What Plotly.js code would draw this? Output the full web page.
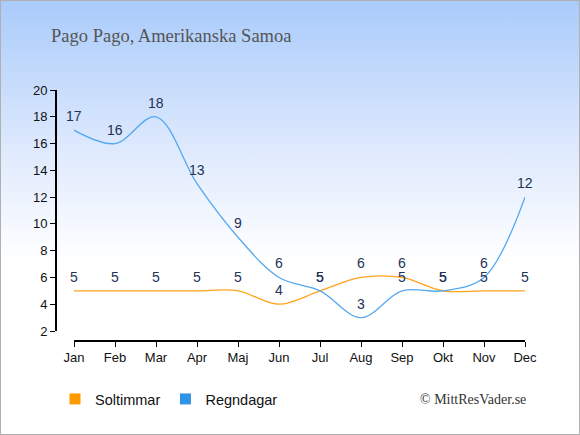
<!DOCTYPE html>
<html>
<head>
<meta charset="utf-8">
<script src="https://cdn.plot.ly/plotly-3.0.1.min.js"></script>
<style>
html,body{margin:0;padding:0;}
#wrap{position:relative;width:580px;height:435px;background:linear-gradient(to bottom,#a9cbfb 0%,#dfeafd 35%,#ffffff 60%,#ffffff 100%);}
#chart{position:absolute;left:0;top:0;width:580px;height:435px;}
#border{position:absolute;left:0;top:0;width:578px;height:433px;border:1px solid #b0b0b0;pointer-events:none;}
</style>
</head>
<body>
<div id="wrap"><div id="chart"></div><div id="border"></div></div>
<script>
const months = ["Jan","Feb","Mar","Apr","Maj","Jun","Jul","Aug","Sep","Okt","Nov","Dec"];
const sunHours = [5,5,5,5,5,4,5,6,6,5,5,5];
const rainDays = [17,16,18,13,9,6,5,3,5,5,6,12];
const yTicks = [2,4,6,8,10,12,14,16,18,20];
const seriesNames = ["Soltimmar","Regndagar"];

const sunColor = "#ffa31a", rainColor = "#55a8f0";
const sunLegend = "#ff9900", rainLegend = "#2f93e6";
const idx = months.map((m,i)=>i);

const traces = [
  {x: idx, y: sunHours, mode:"lines", line:{color:sunColor,width:1.3,shape:"spline",smoothing:1}, showlegend:false, hoverinfo:"skip"},
  {x: idx, y: rainDays, mode:"lines", line:{color:rainColor,width:1.3,shape:"spline",smoothing:1}, showlegend:false, hoverinfo:"skip"},
  {x:[null], y:[null], mode:"markers", name:seriesNames[0], marker:{symbol:"square",size:11,color:sunLegend}},
  {x:[null], y:[null], mode:"markers", name:seriesNames[1], marker:{symbol:"square",size:11,color:rainLegend}}
];

const labelFont = {family:"Liberation Sans, Arial, sans-serif", size:14, color:"#223355"};
const annotations = [];
sunHours.forEach((v,i)=>annotations.push({x:i,y:v,xref:"x",yref:"y",text:String(v),showarrow:false,yshift:14,font:labelFont}));
rainDays.forEach((v,i)=>annotations.push({x:i,y:v,xref:"x",yref:"y",text:String(v),showarrow:false,yshift:14,font:labelFont}));
annotations.push({xref:"paper",yref:"paper",x:0.772,y:-0.236,xanchor:"left",yanchor:"middle",showarrow:false,
  text:"© MittResVader.se",font:{family:"Liberation Serif, DejaVu Serif, serif",size:14,color:"#333333"}});

const layout = {
  width:580, height:435,
  margin:{l:55,r:55,t:90,b:95,pad:0},
  paper_bgcolor:"rgba(0,0,0,0)", plot_bgcolor:"rgba(0,0,0,0)",
  title:{text:"Pago Pago, Amerikanska Samoa", xref:"container", yref:"container", x:51/580, xanchor:"left", y:1-36/435, yanchor:"middle",
    font:{family:"Liberation Serif, DejaVu Serif, serif", size:18.5, color:"#555555"}},
  xaxis:{range:[0,11], domain:[19/470,1], anchor:"free", position:0, showline:true, linecolor:"#000", linewidth:1.5,
    ticks:"outside", ticklen:5, tickcolor:"#000", tickvals:idx, ticktext:months, showgrid:false, zeroline:false,
    tickfont:{family:"Liberation Sans, Arial, sans-serif", size:13, color:"#111"}, fixedrange:true},
  yaxis:{range:[2,20], domain:[9/250,1], anchor:"free", position:0, showline:true, linecolor:"#000", linewidth:1.5,
    ticks:"outside", ticklen:5, tickcolor:"#000", tickvals:yTicks, showgrid:false, zeroline:false,
    tickfont:{family:"Liberation Sans, Arial, sans-serif", size:13, color:"#111"}, fixedrange:true},
  legend:{orientation:"h", x:0.0, y:-0.236, xanchor:"left", yanchor:"middle", bgcolor:"rgba(0,0,0,0)",
    font:{family:"Liberation Sans, Arial, sans-serif", size:14.5, color:"#111"}},
  annotations:annotations,
  showlegend:true
};
Plotly.newPlot("chart", traces, layout, {displayModeBar:false, staticPlot:true});
</script>
</body>
</html>
